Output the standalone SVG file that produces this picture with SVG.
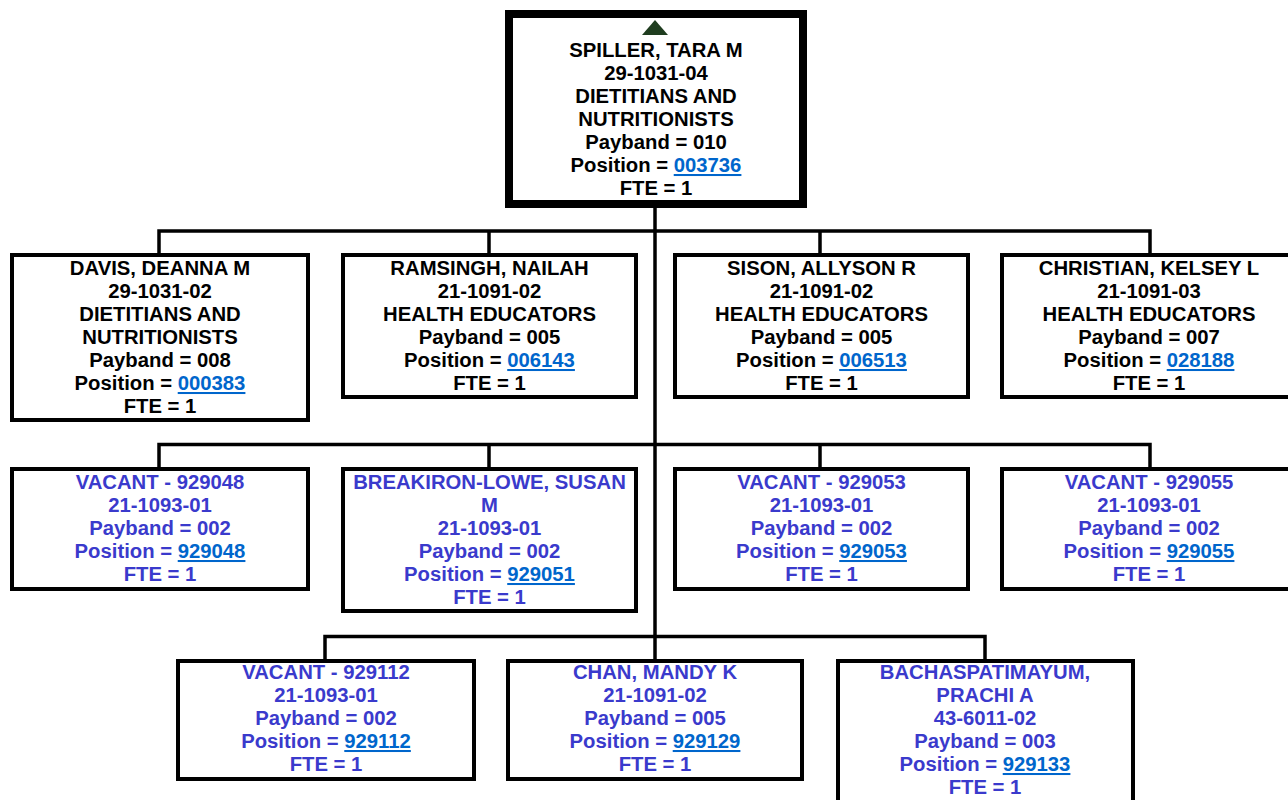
<svg xmlns="http://www.w3.org/2000/svg" width="1288" height="800" viewBox="0 0 1288 800">
  <style>
    .box { fill: #ffffff; stroke: #000000; stroke-width: 4; }
    .root { fill: #ffffff; stroke: #000000; stroke-width: 8; }
    .wire { fill: none; stroke: #000000; stroke-width: 3.5; }
    text { font-family: "Liberation Sans", Arial, sans-serif; font-weight: bold; font-size: 20.3px; text-anchor: middle; }
    .filled { fill: #000000; }
    .vacant { fill: #3a3acc; }
    .pos { fill: #0066cc; text-decoration: underline; }
  </style>

  <!-- reporting lines -->
  <g id="connectors">
    <path class="wire" d="M655,208 V659"/>
    <path class="wire" d="M159,253 V231 H1150 V253 M489,231 V253 M820,231 V253"/>
    <path class="wire" d="M159,467 V444.5 H1150 V467 M489,444.5 V467 M820,444.5 V467"/>
    <path class="wire" d="M325,659 V636.5 H985 V659"/>
  </g>

  <g id="spiller">
    <rect class="root" x="509" y="14" width="294" height="190"/>
    <polygon points="642,35 668,35 655,20" fill="#1f3d1f"/>
    <text class="filled" x="656" y="57">SPILLER, TARA M</text>
    <text class="filled" x="656" y="80">29-1031-04</text>
    <text class="filled" x="656" y="103">DIETITIANS AND</text>
    <text class="filled" x="656" y="126">NUTRITIONISTS</text>
    <text class="filled" x="656" y="149">Payband = 010</text>
    <text class="filled" x="656" y="172">Position = <tspan class="pos">003736</tspan></text>
    <text class="filled" x="656" y="195">FTE = 1</text>
  </g>

  <g id="davis">
    <rect class="box" x="12" y="255" width="296" height="165"/>
    <text class="filled" x="160" y="275">DAVIS, DEANNA M</text>
    <text class="filled" x="160" y="298">29-1031-02</text>
    <text class="filled" x="160" y="321">DIETITIANS AND</text>
    <text class="filled" x="160" y="344">NUTRITIONISTS</text>
    <text class="filled" x="160" y="367">Payband = 008</text>
    <text class="filled" x="160" y="390">Position = <tspan class="pos">000383</tspan></text>
    <text class="filled" x="160" y="413">FTE = 1</text>
  </g>

  <g id="ramsingh">
    <rect class="box" x="343" y="255" width="293" height="142"/>
    <text class="filled" x="489.5" y="275">RAMSINGH, NAILAH</text>
    <text class="filled" x="489.5" y="298">21-1091-02</text>
    <text class="filled" x="489.5" y="321">HEALTH EDUCATORS</text>
    <text class="filled" x="489.5" y="344">Payband = 005</text>
    <text class="filled" x="489.5" y="367">Position = <tspan class="pos">006143</tspan></text>
    <text class="filled" x="489.5" y="390">FTE = 1</text>
  </g>

  <g id="sison">
    <rect class="box" x="675" y="255" width="293" height="142"/>
    <text class="filled" x="821.5" y="275">SISON, ALLYSON R</text>
    <text class="filled" x="821.5" y="298">21-1091-02</text>
    <text class="filled" x="821.5" y="321">HEALTH EDUCATORS</text>
    <text class="filled" x="821.5" y="344">Payband = 005</text>
    <text class="filled" x="821.5" y="367">Position = <tspan class="pos">006513</tspan></text>
    <text class="filled" x="821.5" y="390">FTE = 1</text>
  </g>

  <g id="christian">
    <rect class="box" x="1002" y="255" width="296" height="142"/>
    <text class="filled" x="1149" y="275">CHRISTIAN, KELSEY L</text>
    <text class="filled" x="1149" y="298">21-1091-03</text>
    <text class="filled" x="1149" y="321">HEALTH EDUCATORS</text>
    <text class="filled" x="1149" y="344">Payband = 007</text>
    <text class="filled" x="1149" y="367">Position = <tspan class="pos">028188</tspan></text>
    <text class="filled" x="1149" y="390">FTE = 1</text>
  </g>

  <g id="vacant-929048">
    <rect class="box" x="12" y="469" width="296" height="120"/>
    <text class="vacant" x="160" y="489">VACANT - 929048</text>
    <text class="vacant" x="160" y="512">21-1093-01</text>
    <text class="vacant" x="160" y="535">Payband = 002</text>
    <text class="vacant" x="160" y="558">Position = <tspan class="pos">929048</tspan></text>
    <text class="vacant" x="160" y="581">FTE = 1</text>
  </g>

  <g id="breakiron-lowe">
    <rect class="box" x="343" y="469" width="293" height="142"/>
    <text class="vacant" x="489.5" y="489">BREAKIRON-LOWE, SUSAN</text>
    <text class="vacant" x="489.5" y="512">M</text>
    <text class="vacant" x="489.5" y="535">21-1093-01</text>
    <text class="vacant" x="489.5" y="558">Payband = 002</text>
    <text class="vacant" x="489.5" y="581">Position = <tspan class="pos">929051</tspan></text>
    <text class="vacant" x="489.5" y="604">FTE = 1</text>
  </g>

  <g id="vacant-929053">
    <rect class="box" x="675" y="469" width="293" height="120"/>
    <text class="vacant" x="821.5" y="489">VACANT - 929053</text>
    <text class="vacant" x="821.5" y="512">21-1093-01</text>
    <text class="vacant" x="821.5" y="535">Payband = 002</text>
    <text class="vacant" x="821.5" y="558">Position = <tspan class="pos">929053</tspan></text>
    <text class="vacant" x="821.5" y="581">FTE = 1</text>
  </g>

  <g id="vacant-929055">
    <rect class="box" x="1002" y="469" width="296" height="120"/>
    <text class="vacant" x="1149" y="489">VACANT - 929055</text>
    <text class="vacant" x="1149" y="512">21-1093-01</text>
    <text class="vacant" x="1149" y="535">Payband = 002</text>
    <text class="vacant" x="1149" y="558">Position = <tspan class="pos">929055</tspan></text>
    <text class="vacant" x="1149" y="581">FTE = 1</text>
  </g>

  <g id="vacant-929112">
    <rect class="box" x="178" y="661" width="296" height="118"/>
    <text class="vacant" x="326" y="679">VACANT - 929112</text>
    <text class="vacant" x="326" y="702">21-1093-01</text>
    <text class="vacant" x="326" y="725">Payband = 002</text>
    <text class="vacant" x="326" y="748">Position = <tspan class="pos">929112</tspan></text>
    <text class="vacant" x="326" y="771">FTE = 1</text>
  </g>

  <g id="chan">
    <rect class="box" x="508" y="661" width="294" height="118"/>
    <text class="vacant" x="655" y="679">CHAN, MANDY K</text>
    <text class="vacant" x="655" y="702">21-1091-02</text>
    <text class="vacant" x="655" y="725">Payband = 005</text>
    <text class="vacant" x="655" y="748">Position = <tspan class="pos">929129</tspan></text>
    <text class="vacant" x="655" y="771">FTE = 1</text>
  </g>

  <g id="bachaspatimayum">
    <rect class="box" x="838" y="661" width="295" height="160"/>
    <text class="vacant" x="985" y="679">BACHASPATIMAYUM,</text>
    <text class="vacant" x="985" y="702">PRACHI A</text>
    <text class="vacant" x="985" y="725">43-6011-02</text>
    <text class="vacant" x="985" y="748">Payband = 003</text>
    <text class="vacant" x="985" y="771">Position = <tspan class="pos">929133</tspan></text>
    <text class="vacant" x="985" y="794">FTE = 1</text>
  </g>
</svg>
